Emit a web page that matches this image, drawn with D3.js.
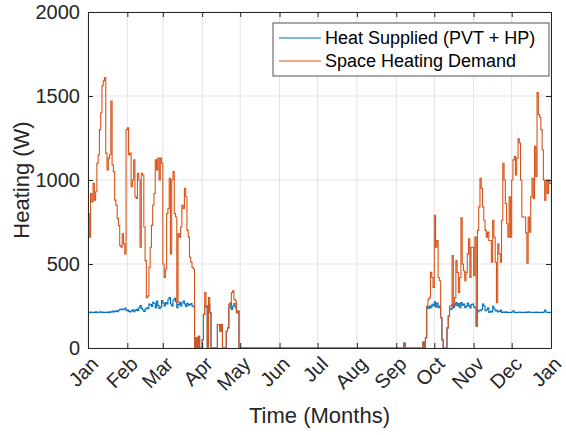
<!DOCTYPE html>
<html><head><meta charset="utf-8">
<script src="https://cdn.jsdelivr.net/npm/d3@7"></script>
<style>
body{margin:0;background:#fff;}
svg{display:block;font-family:"Liberation Sans",Arial,Helvetica,sans-serif;}
</style></head>
<body><svg id="chart" width="566" height="435"></svg>
<script>
// ---- data (daily values, W) ----
const monthLabels = ["Jan","Feb","Mar","Apr","May","Jun","Jul","Aug","Sep","Oct","Nov","Dec","Jan"];
const yTicks = [0, 500, 1000, 1500, 2000];
const seriesNames = ["Heat Supplied (PVT + HP)", "Space Heating Demand"];

// demand, day 0 .. 119 (Jan 1 - Apr 30)
const demandJanApr = [
 800,660,920,870,980,880,930,1100,1150,1300,
 1400,1560,1590,1610,1160,1060,1130,1150,1470,1090,
 1050,880,850,770,730,610,600,680,620,560,
 1300,1310,1150,1160,960,1000,1120,900,890,1040,
 1000,600,1040,1030,720,520,300,310,480,600,
 730,850,920,1120,1060,1130,1000,1130,1100,500,
 420,470,800,830,1010,560,1000,1050,800,780,
 270,680,660,720,850,830,950,900,700,660,
 540,510,480,470,0,60,0,70,0,0,
 50,200,330,250,0,300,210,0,0,0,
 0,0,140,140,100,140,0,0,0,100,
 120,260,270,330,340,290,280,210,220,0
];
const demandJanAprStart = 0;
// demand, day 249 .. 364 (Sep 7 - Dec 31)
const demandSepDec = [
 30,0,0,0,0,0,0,0,0,0,0,0,0,0,0,
 35,0,60,250,290,300,450,420,360,790,
 600,640,420,400,180,50,0,0,0,120,
 190,250,250,550,250,300,520,450,330,420,
 775,500,460,400,450,560,650,420,600,600,
 430,660,130,700,840,1010,950,840,760,700,
 660,690,640,640,510,760,660,510,270,620,
 560,510,760,1100,1000,860,740,660,900,660,
 1000,1120,1140,1030,1130,1245,1220,1000,780,780,
 780,685,505,780,690,900,1010,890,1200,1020,
 1520,1390,1375,1300,1180,1000,880,1000,920,1000,
 980
];
const demandSepDecStart = 249;

// heat supplied, day 0 .. 119
const supplyJanApr = [
 212,210,214,211,213,212,215,210,213,216,
 212,214,211,213,212,214,210,215,213,220,
 214,218,222,216,225,230,232,228,231,238,
 222,226,218,215,221,228,216,224,230,222,
 240,252,236,226,218,232,240,234,262,258,
 248,272,266,238,280,252,236,244,282,266,
 250,270,262,290,300,262,250,286,296,276,
 240,258,272,250,268,280,262,248,266,255,
 258,264,250,245,0,60,0,70,0,0,
 50,200,245,250,0,260,210,0,0,0,
 0,0,140,140,100,140,0,0,0,100,
 120,240,265,230,250,265,240,210,220,0
];
// heat supplied, day 249 .. 364
const supplySepDec = [
 30,0,0,0,0,0,0,0,0,0,0,0,0,0,0,
 35,0,60,245,235,250,240,260,250,275,
 245,268,240,250,180,50,0,0,0,120,
 190,235,230,260,240,255,270,250,265,240,
 270,255,262,240,248,268,252,238,258,262,
 245,238,130,215,225,222,230,262,250,222,
 228,240,212,218,215,248,232,220,225,214,
 218,226,212,214,212,215,211,213,212,212,
 214,222,212,210,213,212,214,211,212,213,
 212,214,212,215,213,212,211,213,212,214,
 212,212,213,211,212,214,226,213,212,210,
 212
];

// ---- layout ----
const L = 88, R = 551, T = 12, B = 348;
const svg = d3.select("#chart");
const t0 = new Date(2019, 0, 1), t1 = new Date(2020, 0, 1);
const x = d3.scaleTime().domain([t0, t1]).range([L, R]);
const y = d3.scaleLinear().domain([0, 2000]).range([B, T]);
const day = d => d3.timeDay.offset(t0, d);

function build(a, aStart, b, bStart) {
  const pts = [];
  a.forEach((v, i) => pts.push([aStart + i, v]));
  b.forEach((v, i) => pts.push([bStart + i, v]));
  pts.push([365, b[b.length - 1]]);
  return pts;
}
const demand = build(demandJanApr, demandJanAprStart, demandSepDec, demandSepDecStart);
const supply = build(supplyJanApr, demandJanAprStart, supplySepDec, demandSepDecStart);

const monthTicks = d3.timeMonth.range(t0, d3.timeDay.offset(t1, 1));
const gridColor = "#e3e3e3", axisColor = "#262626";

// grid
const g = svg.append("g");
g.selectAll("line.vx").data(monthTicks).join("line")
  .attr("x1", d => x(d)).attr("x2", d => x(d)).attr("y1", T).attr("y2", B)
  .attr("stroke", gridColor).attr("stroke-width", 1);
g.selectAll("line.hy").data(yTicks).join("line")
  .attr("x1", L).attr("x2", R).attr("y1", d => y(d)).attr("y2", d => y(d))
  .attr("stroke", gridColor).attr("stroke-width", 1);

// lines
const colors = ["#0072BD", "#D95319"];
const line = d3.line().x(d => x(day(d[0]))).y(d => y(d[1])).curve(d3.curveStepAfter);
svg.append("path").datum(supply).attr("d", line).attr("fill", "none")
  .attr("stroke", colors[0]).attr("stroke-width", 1.1);
svg.append("path").datum(demand).attr("d", line).attr("fill", "none")
  .attr("stroke", colors[1]).attr("stroke-width", 1.1);

// axes
const xAxis = d3.axisBottom(x).tickValues(monthTicks).tickSizeInner(-5).tickSizeOuter(0)
  .tickFormat((d, i) => monthLabels[i]);
const gx = svg.append("g").attr("transform", `translate(0,${B})`).call(xAxis);
gx.select(".domain").attr("stroke", axisColor);
gx.selectAll(".tick line").attr("stroke", axisColor);
gx.selectAll(".tick text")
  .attr("fill", axisColor).attr("font-size", 20)
  .attr("text-anchor", "end").attr("dy", "0.72em").attr("y", 0)
  .attr("transform", "translate(1,7) rotate(-45)");

const xTop = d3.axisTop(x).tickValues(monthTicks).tickSizeInner(-5).tickSizeOuter(0).tickFormat("");
const gxt = svg.append("g").attr("transform", `translate(0,${T})`).call(xTop);
gxt.select(".domain").attr("stroke", axisColor);
gxt.selectAll(".tick line").attr("stroke", axisColor);

const yAxis = d3.axisLeft(y).tickValues(yTicks).tickSizeInner(-5).tickSizeOuter(0).tickPadding(8)
  .tickFormat(d3.format("d"));
const gy = svg.append("g").attr("transform", `translate(${L},0)`).call(yAxis);
gy.select(".domain").attr("stroke", axisColor);
gy.selectAll(".tick line").attr("stroke", axisColor);
gy.selectAll(".tick text").attr("fill", axisColor).attr("font-size", 20);

const yRight = d3.axisRight(y).tickValues(yTicks).tickSizeInner(-5).tickSizeOuter(0).tickFormat("");
const gyr = svg.append("g").attr("transform", `translate(${R},0)`).call(yRight);
gyr.select(".domain").attr("stroke", axisColor);
gyr.selectAll(".tick line").attr("stroke", axisColor);
svg.selectAll(".tick text").attr("font-family", null);

// axis labels
svg.append("text").attr("x", (L + R) / 2).attr("y", 423).attr("text-anchor", "middle")
  .attr("font-size", 22).attr("fill", axisColor).text("Time (Months)");
svg.append("text").attr("transform", `translate(29,${(T + B) / 2}) rotate(-90)`)
  .attr("text-anchor", "middle").attr("font-size", 22).attr("fill", axisColor).text("Heating (W)");

// legend
const lg = svg.append("g");
lg.append("rect").attr("x", 273).attr("y", 23).attr("width", 276).attr("height", 53)
  .attr("fill", "#fff").attr("stroke", axisColor).attr("stroke-width", 0.8);
seriesNames.forEach((n, i) => {
  const yy = 38 + i * 23;
  lg.append("line").attr("x1", 279).attr("x2", 321).attr("y1", yy).attr("y2", yy)
    .attr("stroke", colors[i]).attr("stroke-width", 1.1);
  lg.append("text").attr("x", 325).attr("y", yy).attr("dy", "0.35em")
    .attr("font-size", 18).attr("fill", "#000").text(n);
});
</script></body></html>
